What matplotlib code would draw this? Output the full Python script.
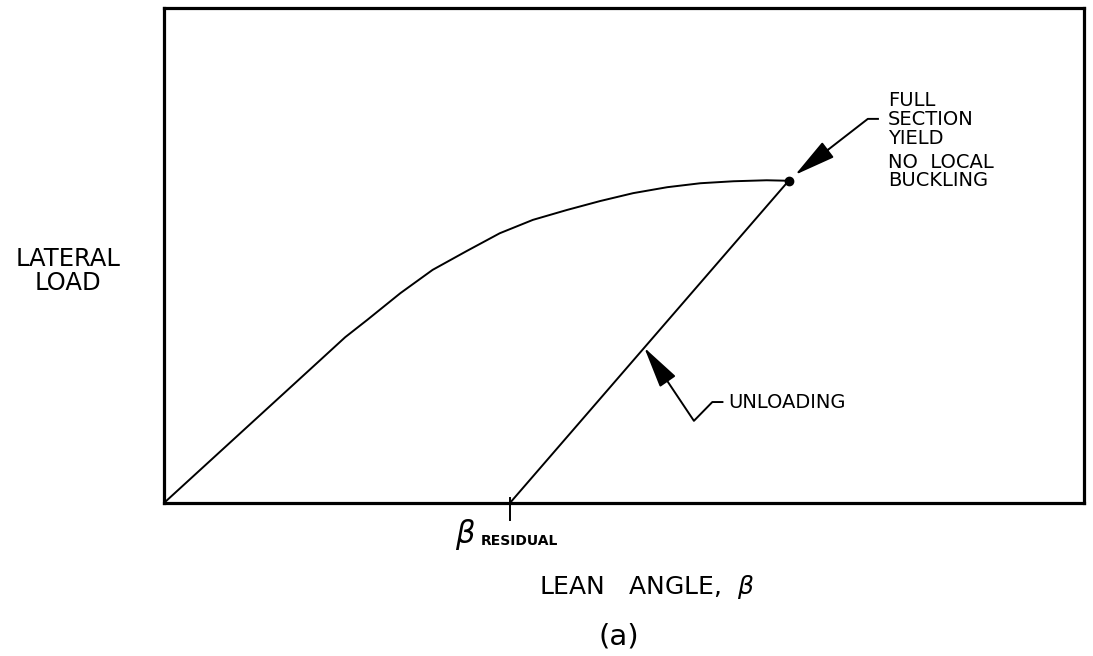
import matplotlib.pyplot as plt

# Curva de carregamento (carga lateral x ângulo de inclinação), unidades arbitrárias
angulo = [0.0, 1.70, 1.97, 2.21, 2.57, 2.92, 3.29, 3.65, 4.01, 4.38, 4.74,
          5.10, 5.47, 5.83, 6.19, 6.55, 6.79]
carga = [0.0, 2.89, 3.35, 3.70, 4.24, 4.71, 5.09, 5.45, 5.72, 5.92, 6.10,
         6.26, 6.38, 6.46, 6.50, 6.52, 6.51]

# Ponto de escoamento total e ângulo residual após o descarregamento
pico_x, pico_y = 6.79, 6.51
beta_residual = 3.76

fig = plt.figure(figsize=(10.93, 6.56), dpi=100)
ax = fig.add_axes([0.150, 0.2332, 0.8418, 0.7546])
ax.set_xlim(0, 10)
ax.set_ylim(0, 10)
ax.set_xticks([])
ax.set_yticks([])
for s in ax.spines.values():
    s.set_linewidth(2.3)

# Carregamento
ax.plot(angulo, carga, color='k', lw=1.4, solid_joinstyle='round')
ax.plot([pico_x], [pico_y], 'o', color='k', ms=6)

# Descarregamento até o ângulo residual
ax.plot([beta_residual, pico_x], [0, pico_y], color='k', lw=1.4)
ax.plot([beta_residual, beta_residual], [0.1, -0.35], color='k', lw=1.4, clip_on=False)

fonte = 'DejaVu Sans'
estilo_seta = dict(arrowstyle='-|>,head_length=1.3,head_width=0.3', color='k', lw=1.4,
                   shrinkA=0, shrinkB=0, mutation_scale=20)

# Chamada do ponto de escoamento
ax.text(7.87, 7.74, 'FULL\nSECTION\nYIELD', fontsize=14, family=fonte,
        va='center', ha='left', linespacing=1.0)
ax.text(7.87, 6.69, 'NO  LOCAL\nBUCKLING', fontsize=14, family=fonte,
        va='center', ha='left', linespacing=0.95)
ax.plot([7.76, 7.65, 7.22], [7.76, 7.76, 7.14], color='k', lw=1.4)
ax.annotate('', xy=(6.86, 6.63), xytext=(7.22, 7.14), arrowprops=estilo_seta)

# Chamada do descarregamento
ax.text(6.13, 2.04, 'UNLOADING', fontsize=14, family=fonte, va='center', ha='left')
ax.plot([6.07, 5.96, 5.76, 5.44], [2.04, 2.04, 1.66, 2.55], color='k', lw=1.4)
ax.annotate('', xy=(5.22, 3.14), xytext=(5.44, 2.55), arrowprops=estilo_seta)

# Rótulo do ângulo residual
ax.text(beta_residual - 0.6, -0.29, r'$\beta$', fontsize=22, va='top', ha='left', clip_on=False)
ax.text(beta_residual - 0.32, -0.62, 'RESIDUAL', fontsize=10, family=fonte,
        fontweight='bold', va='top', ha='left', clip_on=False)

# Títulos dos eixos
fig.text(0.062, 0.587, 'LATERAL\nLOAD', fontsize=17.5, family=fonte,
         ha='center', va='center', linespacing=1.0)
fig.text(0.592, 0.105, r'LEAN   ANGLE,  $\beta$', fontsize=18, family=fonte,
         ha='center', va='center')
fig.text(0.566, 0.030, '(a)', fontsize=21, family=fonte, ha='center', va='center')

fig.savefig('out.png', dpi=100)
